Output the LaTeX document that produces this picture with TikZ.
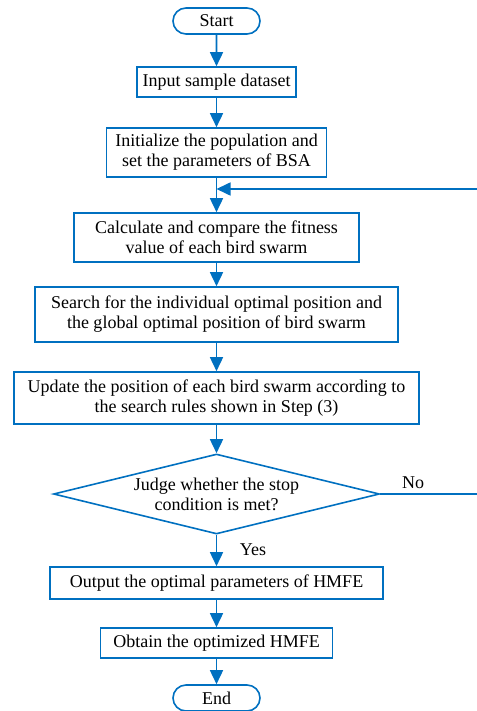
\documentclass[tikz,border=0pt]{standalone}
\usepackage{fontspec}
\setmainfont{Liberation Serif}
\usetikzlibrary{shapes.geometric, shapes.misc, arrows.meta}
\definecolor{flowblue}{HTML}{0070C0}

\begin{document}
\begin{tikzpicture}[
        x=1pt, y=-1pt,
        line width=1.6pt,
        font=\fontsize{18}{20}\selectfont,
        box/.style={draw=flowblue, rectangle, inner sep=0pt, align=center},
        term/.style={draw=flowblue, rounded rectangle, inner sep=0pt, minimum width=87pt, minimum height=26pt},
        judge/.style={draw=flowblue, diamond, inner sep=0pt, minimum width=326pt, minimum height=80pt},
        flow/.style={draw=flowblue, -{Triangle[width=13pt,length=14pt]}}
    ]
        \useasboundingbox (0,0) rectangle (476,711);

        \node[term] (start) at (216.5, 21) {Start};
        \node[box, minimum width=159pt, minimum height=30pt] (input) at (216.5, 82) {Input sample dataset};
        \node[box, minimum width=220pt, minimum height=49pt] (init) at (216.5, 152.5) {Initialize the population and\\set the parameters of BSA};
        \node[box, minimum width=285pt, minimum height=49pt] (calc) at (216.5, 237.5) {Calculate and compare the fitness\\value of each bird swarm};
        \node[box, minimum width=363pt, minimum height=55pt] (search) at (216.5, 314.5) {Search for the individual optimal position and\\the global optimal position of bird swarm};
        \node[box, minimum width=405pt, minimum height=52pt] (update) at (216.5, 398) {Update the position of each bird swarm according to\\the search rules shown in Step (3)};
        \node[judge, label={[align=center]center:Judge whether the stop\\condition is met?}] (stop) at (216.5, 494) {};
        \node[box, minimum width=333pt, minimum height=32pt] (output) at (216.5, 583) {Output the optimal parameters of HMFE};
        \node[box, minimum width=232pt, minimum height=30pt] (obtain) at (216.5, 643) {Obtain the optimized HMFE};
        \node[term] (end) at (216.5, 698) {End};

        \node (no) at (413, 483) {No};
        \node (yes) at (253, 550) {Yes};
        \coordinate (merge) at (216.5, 189);

        \draw[flow] (start) -- (input);
        \draw[flow] (input) -- (init);
        \draw[flow] (init) -- (calc);
        \draw[flow] (calc) -- (search);
        \draw[flow] (search) -- (update);
        \draw[flow] (update) -- (stop);
        \draw[flow] (stop) -- (output);
        \draw[flow] (output) -- (obtain);
        \draw[flow] (obtain) -- (end);
        \draw[flow] (stop.east) -- ++(97,0) |- (merge);
    \end{tikzpicture}
\end{document}
